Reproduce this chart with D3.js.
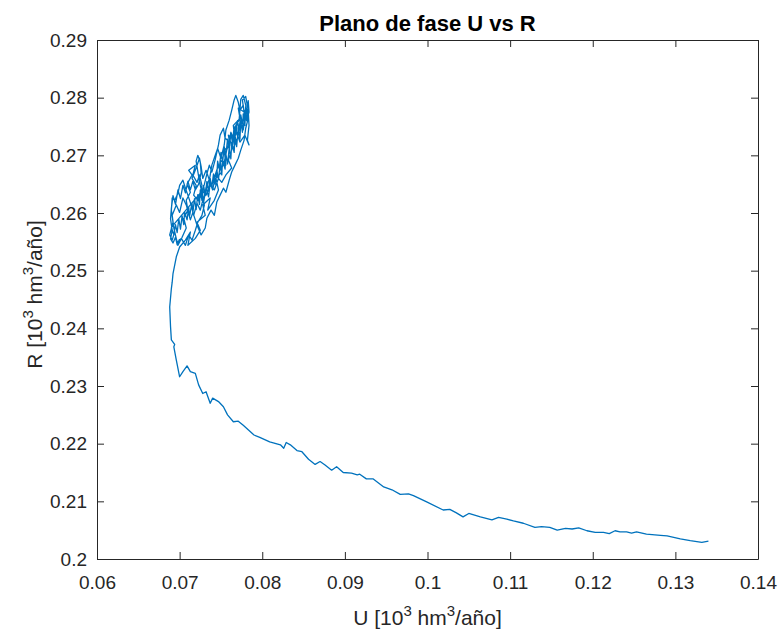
<!DOCTYPE html>
<html>
<head>
<meta charset="utf-8">
<script src="https://cdn.jsdelivr.net/npm/d3@7"></script>
<style>
  body { margin: 0; background: #fff; }
  svg { display: block; font-family: "Liberation Sans", Arial, Helvetica, sans-serif; }
</style>
</head>
<body>
<div id="chart"></div>
<script>
// Phase-plane trajectory U vs R
const xTicks = [0.06, 0.07, 0.08, 0.09, 0.10, 0.11, 0.12, 0.13, 0.14];
const yTicks = [0.20, 0.21, 0.22, 0.23, 0.24, 0.25, 0.26, 0.27, 0.28, 0.29];

// long decaying tail, from the right end towards the left
const tailPoints = [
  [0.1340,0.2031],[0.1332,0.2029],[0.1318,0.2032],[0.1306,0.2035],[0.1290,0.2040],[0.1282,0.2041],
  [0.1265,0.2043],[0.1253,0.2047],[0.1247,0.2045],[0.1241,0.2047],[0.1233,0.2047],[0.1227,0.2049],
  [0.1220,0.2044],[0.1213,0.2046],[0.1203,0.2046],[0.1193,0.2049],[0.1183,0.2054],[0.1175,0.2052],
  [0.1167,0.2053],[0.1157,0.2050],[0.1148,0.2055],[0.1138,0.2056],[0.1130,0.2055],[0.1116,0.2062],
  [0.1104,0.2066],[0.1096,0.2069],[0.1086,0.2072],[0.1078,0.2068],[0.1064,0.2073],[0.1050,0.2079],
  [0.1043,0.2073],[0.1035,0.2080],[0.1027,0.2086],[0.1019,0.2085],[0.0999,0.2099],[0.0983,0.2110],
  [0.0977,0.2113],[0.0967,0.2112],[0.0957,0.2120],[0.0947,0.2125],[0.0934,0.2139],[0.0926,0.2139],
  [0.0918,0.2147],[0.0915,0.2146],[0.0908,0.2149],[0.0898,0.2150],[0.0890,0.2160],[0.0884,0.2154],
  [0.0876,0.2163],[0.0870,0.2169],[0.0864,0.2164],[0.0856,0.2173],[0.0848,0.2186],[0.0842,0.2188],
  [0.0834,0.2198],[0.0829,0.2202],[0.0826,0.2192],[0.0822,0.2198],[0.0809,0.2203]
];

// the bend round the minimum of U
const bendPoints = [
  [0.0797,0.2211],[0.0790,0.2215],[0.0783,0.2224],[0.0777,0.2232],[0.0771,0.2239],[0.0765,0.2238],
  [0.0758,0.2250],[0.0753,0.2264],[0.0747,0.2273],[0.0740,0.2279],[0.0737,0.2270],[0.0732,0.2290],
  [0.0728,0.2287],[0.0723,0.2302],[0.0719,0.2322],[0.0713,0.2325],[0.0709,0.2335],[0.0704,0.2325],
  [0.0700,0.2316],[0.0696,0.2345],[0.0693,0.2368],[0.0694,0.2372],[0.0690,0.2380],[0.0689,0.2403],
  [0.0688,0.2437],[0.0690,0.2469],[0.0691,0.2480],[0.0692,0.2495],[0.0696,0.2524],[0.0700,0.2541]
];

// noisy cluster at the top, first pass
const clusterPoints = [
  [0.0707,0.2553],[0.0713,0.2567],[0.0710,0.2544],[0.0719,0.2556],[0.0725,0.2570],[0.0721,0.2584],
  [0.0731,0.2596],[0.0728,0.2614],[0.0737,0.2626],[0.0734,0.2605],[0.0742,0.2622],[0.0747,0.2640],
  [0.0744,0.2660],[0.0751,0.2671],[0.0749,0.2692],[0.0756,0.2683],[0.0754,0.2709],[0.0761,0.2718],
  [0.0759,0.2735],[0.0767,0.2726],[0.0765,0.2752],[0.0773,0.2764],[0.0771,0.2782],[0.0778,0.2775],
  [0.0776,0.2796],[0.0780,0.2802],[0.0783,0.2778],[0.0784,0.2752],[0.0782,0.2726],[0.0784,0.2718],
  [0.0779,0.2735],[0.0773,0.2723],[0.0768,0.2744],[0.0763,0.2709],[0.0759,0.2692],[0.0763,0.2678],
  [0.0756,0.2666],[0.0751,0.2653],[0.0747,0.2660],[0.0742,0.2640],[0.0737,0.2648],[0.0732,0.2631],
  [0.0727,0.2640],[0.0722,0.2622],[0.0717,0.2631],[0.0720,0.2648],[0.0715,0.2660],[0.0720,0.2678],
  [0.0724,0.2695],[0.0726,0.2681],[0.0728,0.2660],[0.0732,0.2674],[0.0736,0.2657],[0.0739,0.2683],
  [0.0743,0.2700],[0.0746,0.2712],[0.0750,0.2695],[0.0754,0.2718],[0.0756,0.2744],[0.0760,0.2761],
  [0.0763,0.2778],[0.0766,0.2796],[0.0768,0.2804],[0.0771,0.2792],[0.0773,0.2778],[0.0777,0.2787],
  [0.0779,0.2764],[0.0777,0.2744],[0.0773,0.2752],[0.0770,0.2730],[0.0765,0.2712],[0.0761,0.2726],
  [0.0757,0.2709],[0.0754,0.2688],[0.0750,0.2674],[0.0747,0.2683],[0.0743,0.2666],[0.0739,0.2648],
  [0.0736,0.2660],[0.0732,0.2640],[0.0728,0.2622],[0.0725,0.2605],[0.0721,0.2617],[0.0717,0.2596],
  [0.0714,0.2614],[0.0710,0.2631],[0.0707,0.2643],[0.0704,0.2657],[0.0700,0.2648],[0.0698,0.2634],
  [0.0694,0.2622],[0.0691,0.2626],[0.0690,0.2605],[0.0692,0.2584],[0.0688,0.2562],[0.0691,0.2553],
  [0.0694,0.2567],[0.0698,0.2544],[0.0703,0.2558],[0.0708,0.2574],[0.0705,0.2591],[0.0710,0.2605],
  [0.0708,0.2622],[0.0713,0.2636],[0.0709,0.2650],[0.0715,0.2666],[0.0711,0.2674],[0.0719,0.2683],
  [0.0716,0.2666],[0.0721,0.2653],[0.0724,0.2666],[0.0727,0.2648],[0.0725,0.2631],[0.0730,0.2614],
  [0.0727,0.2596],[0.0722,0.2584],[0.0719,0.2570],[0.0715,0.2553],[0.0711,0.2562],[0.0707,0.2544],
  [0.0702,0.2556],[0.0697,0.2549],[0.0693,0.2574],[0.0691,0.2596],[0.0696,0.2614],[0.0700,0.2601],
  [0.0704,0.2626],[0.0708,0.2614],[0.0713,0.2588],[0.0716,0.2601],[0.0721,0.2579],[0.0726,0.2562],
  [0.0731,0.2574],[0.0733,0.2591],[0.0738,0.2605],[0.0742,0.2596],[0.0745,0.2619],[0.0749,0.2631],
  [0.0753,0.2643],[0.0756,0.2636],[0.0760,0.2657],[0.0763,0.2671],[0.0767,0.2683],[0.0771,0.2695],
  [0.0774,0.2709],[0.0778,0.2726],[0.0780,0.2747],[0.0783,0.2764],[0.0780,0.2787],[0.0777,0.2804],
  [0.0774,0.2797],[0.0772,0.2761],[0.0768,0.2752],[0.0766,0.2726],[0.0762,0.2740],[0.0760,0.2723],
  [0.0755,0.2730],[0.0753,0.2747],[0.0749,0.2735],[0.0747,0.2718],[0.0743,0.2692],[0.0739,0.2671],
  [0.0736,0.2683]
];

// cluster, second pass with short jagged steps
const clusterFinePoints = [
  [0.0733,0.2668],[0.0730,0.2650],[0.0727,0.2638],
  [0.0690,0.2575],[0.0693,0.2562],[0.0695,0.2580],[0.0697,0.2566],[0.0699,0.2590],[0.0701,0.2572],
  [0.0703,0.2595],[0.0705,0.2580],[0.0706,0.2602],[0.0709,0.2588],[0.0711,0.2610],[0.0712,0.2594],
  [0.0715,0.2618],[0.0716,0.2600],[0.0718,0.2625],[0.0720,0.2606],[0.0722,0.2632],[0.0724,0.2615],
  [0.0725,0.2640],[0.0727,0.2622],[0.0729,0.2648],[0.0731,0.2630],[0.0733,0.2655],[0.0735,0.2638],
  [0.0737,0.2660],[0.0739,0.2645],[0.0741,0.2668],[0.0743,0.2650],[0.0745,0.2675],[0.0747,0.2658],
  [0.0749,0.2684],[0.0751,0.2666],[0.0752,0.2692],[0.0755,0.2676],[0.0756,0.2702],[0.0758,0.2685],
  [0.0760,0.2712],[0.0762,0.2694],[0.0763,0.2722],[0.0766,0.2705],[0.0767,0.2735],[0.0769,0.2715],
  [0.0771,0.2748],[0.0773,0.2728],[0.0774,0.2760],[0.0776,0.2740],[0.0777,0.2772],[0.0779,0.2752],
  [0.0780,0.2785],[0.0782,0.2765],[0.0783,0.2795],[0.0784,0.2775],
  [0.0781,0.2760],[0.0779,0.2778],[0.0776,0.2755],[0.0774,0.2770],[0.0772,0.2745],[0.0770,0.2760],
  [0.0768,0.2735],[0.0766,0.2750],[0.0764,0.2722],[0.0762,0.2738],[0.0760,0.2710],[0.0758,0.2728],
  [0.0756,0.2700],[0.0754,0.2715],[0.0752,0.2688],[0.0750,0.2705],[0.0748,0.2676],[0.0746,0.2690],
  [0.0745,0.2665],[0.0742,0.2655],[0.0740,0.2640],[0.0737,0.2652],[0.0735,0.2628],[0.0732,0.2645],
  [0.0729,0.2618],[0.0727,0.2635],[0.0724,0.2655],[0.0722,0.2672],[0.0720,0.2690],[0.0722,0.2700],
  [0.0725,0.2688],[0.0726,0.2670],[0.0723,0.2650],[0.0719,0.2640],[0.0716,0.2655],[0.0713,0.2640],
  [0.0710,0.2655],[0.0707,0.2635],[0.0704,0.2648],[0.0701,0.2625],[0.0698,0.2640],[0.0695,0.2615],
  [0.0692,0.2630],[0.0690,0.2608],[0.0689,0.2590],[0.0691,0.2570],[0.0689,0.2555],[0.0692,0.2548],
  [0.0695,0.2558],[0.0697,0.2545],[0.0700,0.2555]
];

const trajectory = [...tailPoints, ...bendPoints, ...clusterPoints, ...clusterFinePoints];

const width = 780;
const height = 635;
const margin = { top: 40, right: 22, bottom: 76, left: 97 };
const axisColor = '#262626';
const lineColor = '#0072bd';

const svg = d3.select('#chart')
  .append('svg')
  .attr('width', width)
  .attr('height', height);

svg.append('rect')
  .attr('width', width)
  .attr('height', height)
  .attr('fill', '#fff');

const x = d3.scaleLinear()
  .domain([0.06, 0.14])
  .range([margin.left, width - margin.right]);

const y = d3.scaleLinear()
  .domain([0.20, 0.29])
  .range([height - margin.bottom, margin.top]);

const fmt = d => String(+d.toFixed(2));

// Data line (clipped to the axes box)
svg.append('clipPath').attr('id', 'plot-clip')
  .append('rect')
  .attr('x', margin.left).attr('y', margin.top)
  .attr('width', x.range()[1] - x.range()[0])
  .attr('height', y.range()[0] - y.range()[1]);

const line = d3.line()
  .x(d => x(d[0]))
  .y(d => y(d[1]));

svg.append('path')
  .datum(trajectory)
  .attr('clip-path', 'url(#plot-clip)')
  .attr('fill', 'none')
  .attr('stroke', lineColor)
  .attr('stroke-width', 1.3)
  .attr('stroke-linejoin', 'round')
  .attr('d', line);

// Axes: ticks point inward, box on all four sides
function styleAxis(g) {
  g.selectAll('.domain').attr('stroke', axisColor).attr('stroke-width', 1);
  g.selectAll('.tick line').attr('stroke', axisColor).attr('stroke-width', 1);
  g.selectAll('.tick text')
    .attr('fill', axisColor)
    .attr('font-size', '19px')
    .attr('font-family', '"Liberation Sans", Arial, sans-serif');
}

svg.append('g')
  .attr('transform', `translate(0,${y.range()[0]})`)
  .call(d3.axisBottom(x).tickValues(xTicks).tickFormat(fmt).tickSizeInner(-7).tickSizeOuter(0).tickPadding(17))
  .call(styleAxis);

svg.append('g')
  .attr('transform', `translate(0,${y.range()[1]})`)
  .call(d3.axisTop(x).tickValues(xTicks).tickFormat('').tickSizeInner(-7).tickSizeOuter(0))
  .call(styleAxis);

svg.append('g')
  .attr('transform', `translate(${x.range()[0]},0)`)
  .call(d3.axisLeft(y).tickValues(yTicks).tickFormat(fmt).tickSizeInner(-7).tickSizeOuter(0).tickPadding(10))
  .call(styleAxis);

svg.append('g')
  .attr('transform', `translate(${x.range()[1]},0)`)
  .call(d3.axisRight(y).tickValues(yTicks).tickFormat('').tickSizeInner(-7).tickSizeOuter(0))
  .call(styleAxis);

// Title
svg.append('text')
  .attr('x', (x.range()[0] + x.range()[1]) / 2)
  .attr('y', 31)
  .attr('text-anchor', 'middle')
  .attr('font-size', '22px')
  .attr('font-weight', '700')
  .attr('fill', '#000')
  .text('Plano de fase U vs R');

// Axis label with superscripts
function unitLabel(sel, prefix) {
  sel.append('tspan').text(prefix + ' [10');
  sel.append('tspan').attr('font-size', '15px').attr('dy', -9).text('3');
  sel.append('tspan').attr('dy', 9).text(' hm');
  sel.append('tspan').attr('font-size', '15px').attr('dy', -9).text('3');
  sel.append('tspan').attr('dy', 9).text('/año]');
}

svg.append('text')
  .attr('x', (x.range()[0] + x.range()[1]) / 2)
  .attr('y', 625)
  .attr('text-anchor', 'middle')
  .attr('font-size', '21px')
  .attr('fill', axisColor)
  .call(unitLabel, 'U');

svg.append('text')
  .attr('transform', `translate(42,${(y.range()[0] + y.range()[1]) / 2 - 5}) rotate(-90)`)
  .attr('text-anchor', 'middle')
  .attr('font-size', '21px')
  .attr('fill', axisColor)
  .call(unitLabel, 'R');
</script>
</body>
</html>
